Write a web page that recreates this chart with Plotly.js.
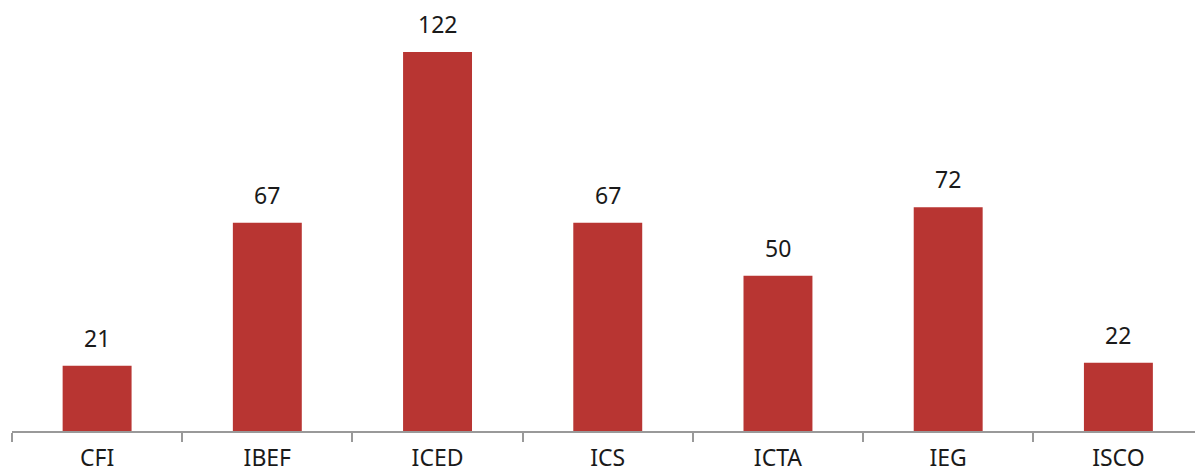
<!DOCTYPE html>
<html>
<head>
<meta charset="utf-8">
<script src="https://cdn.plot.ly/plotly-3.0.1.min.js"></script>
<style>html,body{margin:0;padding:0;background:#fff;}#chart{width:1195px;height:476px;}</style>
</head>
<body>
<div id="chart"></div>
<script>
const categories = ["CFI", "IBEF", "ICED", "ICS", "ICTA", "IEG", "ISCO"];
const values = [21, 67, 122, 67, 50, 72, 22];

const labelFont = {family: "Noto Sans, sans-serif", size: 23, color: "#1a1a1a"};

const trace = {
  type: "bar",
  x: categories,
  y: values,
  width: 0.405,
  marker: {color: "#b83532", line: {width: 0}},
  hoverinfo: "x+y"
};

const annotations = categories.map((c, i) => ({
  x: c,
  y: values[i],
  xref: "x",
  yref: "y",
  text: String(values[i]),
  showarrow: false,
  yanchor: "bottom",
  yshift: 10,
  font: labelFont
}));

const layout = {
  width: 1195,
  height: 476,
  margin: {l: 12, r: 0, t: 0, b: 45},
  paper_bgcolor: "#ffffff",
  plot_bgcolor: "#ffffff",
  showlegend: false,
  annotations: annotations,
  xaxis: {
    type: "category",
    range: [-0.5, 6.45],
    showline: true,
    linecolor: "#999999",
    linewidth: 2,
    ticks: "outside",
    tickson: "boundaries",
    ticklen: 9,
    tickwidth: 2,
    tickcolor: "#999999",
    ticklabelstandoff: 5,
    showgrid: false,
    tickfont: labelFont
  },
  yaxis: {
    range: [0, 138.7],
    visible: false,
    showgrid: false,
    zeroline: false
  }
};

Plotly.newPlot("chart", [trace], layout, {displayModeBar: false, staticPlot: true});
</script>
</body>
</html>
